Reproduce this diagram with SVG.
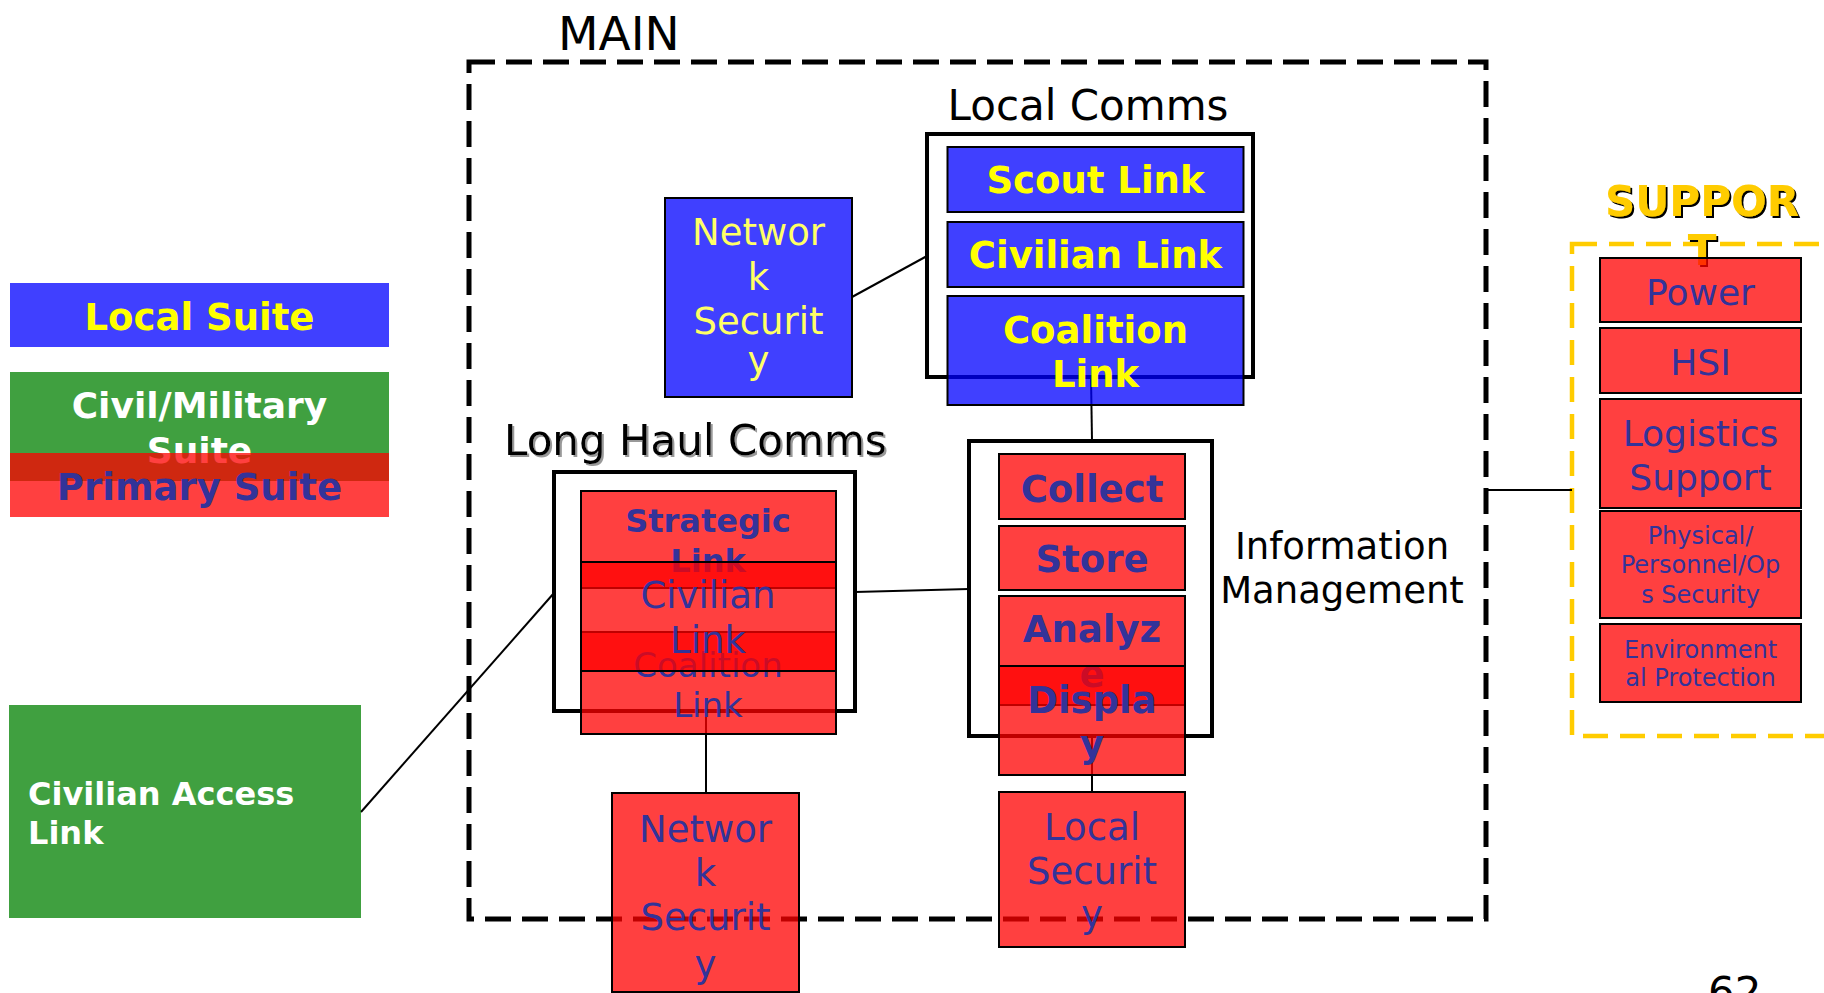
<svg xmlns="http://www.w3.org/2000/svg" width="1824" height="993" viewBox="0 0 1824 993">
<defs>
<filter id="shGray" x="-5%" y="-20%" width="110%" height="140%"><feDropShadow dx="2" dy="2" stdDeviation="0.6" flood-color="#999999" flood-opacity="1"/></filter>
<filter id="shBlack" x="-5%" y="-20%" width="110%" height="140%"><feDropShadow dx="2" dy="2" stdDeviation="0.3" flood-color="#000000" flood-opacity="1"/></filter>
<style>
text{font-family:"DejaVu Sans","Verdana",sans-serif}
.b{font-weight:bold}
.c{text-anchor:middle}
.red{fill:#FF0000;fill-opacity:0.75;stroke:#000;stroke-width:2}
.blue{fill:#0000FF;fill-opacity:0.75;stroke:#000;stroke-width:2}
.green{fill:#008000;fill-opacity:0.75}
.legblue{fill:#0000FF;fill-opacity:0.75}
.legred{fill:#FF0000;fill-opacity:0.75}
.cont{fill:none;stroke:#000;stroke-width:4}
.tb{fill:#333399}
.ty{fill:#FFFF00}
.tw{fill:#FFFFFF}
.tk{fill:#000000}
.conn line{stroke:#000;stroke-width:2}
</style>
</defs>
<rect width="1824" height="993" fill="#FFFFFF"/>

<g id="main-frame">
<rect x="469" y="62" width="1017" height="857" fill="none" stroke="#000" stroke-width="5" stroke-dasharray="26 11"/>
<text x="558" y="50" font-size="47" class="tk">MAIN</text>
</g>

<g id="support-frame">
<rect x="1572" y="244" width="290" height="492" fill="none" stroke="#FFCC00" stroke-width="4.5" stroke-dasharray="25 12"/>
</g>

<g id="local-comms">
<rect x="927" y="134" width="326" height="243" class="cont"/>
<text x="1088" y="120" font-size="42" class="c tk">Local Comms</text>
</g>

<g id="long-haul-comms">
<rect x="554" y="472" width="301" height="239" class="cont"/>
<text x="504" y="455" font-size="42" class="tk" filter="url(#shGray)">Long Haul Comms</text>
</g>

<g id="information-management">
<rect x="969" y="441" width="243" height="295" class="cont"/>
<text x="1342" y="559" font-size="37" class="c tk">Information</text>
<text x="1342" y="603" font-size="37" class="c tk">Management</text>
</g>

<g id="connectors" class="conn">
<line x1="852" y1="297" x2="927" y2="256"/>
<line x1="1091" y1="377" x2="1092" y2="441"/>
<line x1="855" y1="592" x2="969" y2="589"/>
<line x1="361" y1="812" x2="554" y2="593"/>
<line x1="706" y1="711" x2="706" y2="793"/>
<line x1="1092" y1="735" x2="1092" y2="792"/>
<line x1="1486" y1="490" x2="1572" y2="490"/>
</g>

<g id="legend-local-suite">
<rect x="10" y="283" width="379" height="64" class="legblue"/>
<text x="199.5" y="330" font-size="37" class="b c ty">Local Suite</text>
</g>
<g id="legend-civil-military-suite">
<rect x="10" y="372" width="379" height="109" class="green"/>
<text x="199.5" y="418" font-size="36" class="b c tw">Civil/Military</text>
<text x="199.5" y="463" font-size="36" class="b c tw">Suite</text>
</g>
<g id="legend-primary-suite">
<rect x="10" y="453" width="379" height="64" class="legred"/>
<text x="199.5" y="500" font-size="37" class="b c tb">Primary Suite</text>
</g>

<g id="civilian-access-link">
<rect x="9" y="705" width="352" height="213" class="green"/>
<text x="28" y="805" font-size="32" class="b tw">Civilian Access</text>
<text x="28" y="844" font-size="32" class="b tw">Link</text>
</g>

<g id="network-security-local">
<rect x="665" y="198" width="187" height="199" class="blue"/>
<text x="758.5" y="245" font-size="37" class="c" fill="#FFFF66">Networ</text>
<text x="758.5" y="290" font-size="37" class="c" fill="#FFFF66">k</text>
<text x="758.5" y="334" font-size="37" class="c" fill="#FFFF66">Securit</text>
<text x="758.5" y="373" font-size="37" class="c" fill="#FFFF66">y</text>
</g>

<g id="scout-link">
<rect x="947.5" y="147" width="296" height="65" class="blue"/>
<text x="1095.5" y="193" font-size="37" class="b c ty">Scout Link</text>
</g>
<g id="civilian-link-local">
<rect x="947.5" y="222" width="296" height="65" class="blue"/>
<text x="1095.5" y="268" font-size="37" class="b c ty">Civilian Link</text>
</g>
<g id="coalition-link-local">
<rect x="947.5" y="296" width="296" height="109" class="blue"/>
<text x="1095.5" y="343" font-size="37" class="b c ty">Coalition</text>
<text x="1095.5" y="387" font-size="37" class="b c ty">Link</text>
</g>

<g id="strategic-link">
<rect x="581" y="491" width="255" height="97" class="red"/>
<text x="708" y="532" font-size="32" class="b c tb">Strategic</text>
<text x="708" y="572" font-size="32" class="b c tb">Link</text>
</g>
<g id="coalition-link-longhaul">
<rect x="581" y="632" width="255" height="102" class="red"/>
<text x="708" y="677" font-size="34" class="c tb">Coalition</text>
<text x="708" y="717" font-size="34" class="c tb">Link</text>
</g>
<g id="civilian-link-longhaul">
<rect x="581" y="562" width="255" height="109" class="red"/>
<text x="708" y="608" font-size="37" class="c tb">Civilian</text>
<text x="708" y="653" font-size="37" class="c tb">Link</text>
</g>

<g id="network-security-primary">
<rect x="612" y="793" width="187" height="199" class="red"/>
<text x="705.5" y="842" font-size="37" class="c tb">Networ</text>
<text x="705.5" y="886" font-size="37" class="c tb">k</text>
<text x="705.5" y="930" font-size="37" class="c tb">Securit</text>
<text x="705.5" y="977" font-size="37" class="c tb">y</text>
</g>

<g id="collect">
<rect x="999" y="454" width="186" height="65" class="red"/>
<text x="1092" y="502" font-size="37" class="b c tb">Collect</text>
</g>
<g id="store">
<rect x="999" y="526" width="186" height="64" class="red"/>
<text x="1092" y="572" font-size="37" class="b c tb">Store</text>
</g>
<g id="analyze">
<rect x="999" y="596" width="186" height="109" class="red"/>
<text x="1092" y="642" font-size="37" class="b c tb">Analyz</text>
<text x="1092" y="687" font-size="37" class="b c tb">e</text>
</g>
<g id="display">
<rect x="999" y="666" width="186" height="109" class="red"/>
<text x="1092" y="713" font-size="37" class="b c tb">Displa</text>
<text x="1092" y="757" font-size="37" class="b c tb">y</text>
</g>

<g id="local-security">
<rect x="999" y="792" width="186" height="155" class="red"/>
<text x="1092" y="840" font-size="37" class="c tb">Local</text>
<text x="1092" y="884" font-size="37" class="c tb">Securit</text>
<text x="1092" y="927" font-size="37" class="c tb">y</text>
</g>

<g id="support-label">
<text x="1702" y="216" font-size="42" class="b c" fill="#FFCC00" filter="url(#shBlack)">SUPPOR</text>
<text x="1702" y="265" font-size="42" class="b c" fill="#FFCC00" filter="url(#shBlack)">T</text>
</g>

<g id="power">
<rect x="1600" y="258" width="201" height="64" class="red"/>
<text x="1700.5" y="305" font-size="36" class="c tb">Power</text>
</g>
<g id="hsi">
<rect x="1600" y="328" width="201" height="65" class="red"/>
<text x="1700.5" y="375" font-size="36" class="c tb">HSI</text>
</g>
<g id="logistics-support">
<rect x="1600" y="399" width="201" height="109" class="red"/>
<text x="1700.5" y="446" font-size="36" class="c tb">Logistics</text>
<text x="1700.5" y="490" font-size="36" class="c tb">Support</text>
</g>
<g id="physical-security">
<rect x="1600" y="511" width="201" height="107" class="red"/>
<text x="1700.5" y="544" font-size="24" class="c tb">Physical/</text>
<text x="1700.5" y="573" font-size="24" class="c tb">Personnel/Op</text>
<text x="1700.5" y="603" font-size="24" class="c tb">s Security</text>
</g>
<g id="environmental-protection">
<rect x="1600" y="624" width="201" height="78" class="red"/>
<text x="1700.5" y="658" font-size="24" class="c tb">Environment</text>
<text x="1700.5" y="686" font-size="24" class="c tb">al Protection</text>
</g>

<g id="page-number">
<text x="1708" y="1007" font-size="42" class="tk">62</text>
</g>
</svg>
